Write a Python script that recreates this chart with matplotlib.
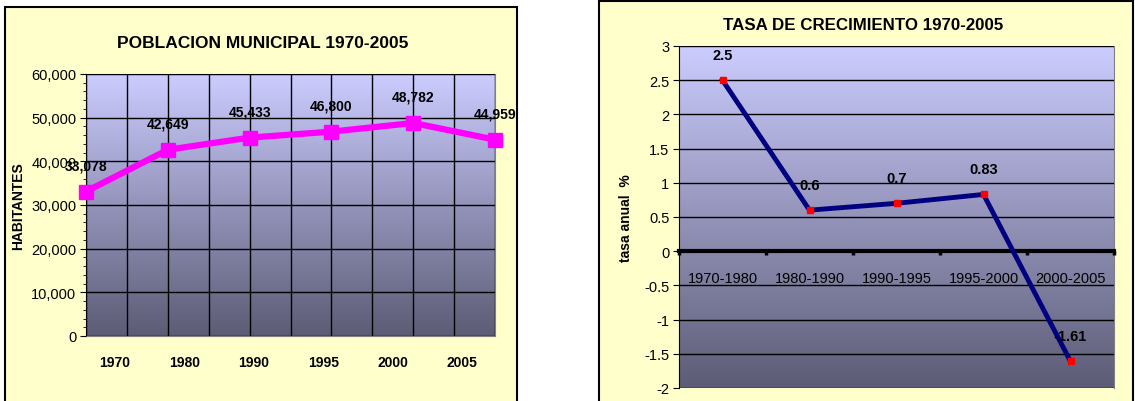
import numpy as np
import matplotlib
matplotlib.use('Agg')
import matplotlib.pyplot as plt
from matplotlib.patches import Rectangle
from matplotlib.ticker import MultipleLocator, FuncFormatter

plt.rcParams['font.family'] = ['Liberation Sans', 'DejaVu Sans']

# poblacion municipal
years = ['1970', '1980', '1990', '1995', '2000', '2005']
population = [33078, 42649, 45433, 46800, 48782, 44959]

# tasa de crecimiento
periods = ['1970-1980', '1980-1990', '1990-1995', '1995-2000', '2000-2005']
growth = [2.5, 0.6, 0.7, 0.83, -1.61]

W, H = 1135, 402
fig = plt.figure(figsize=(W / 100, H / 100), dpi=100)
fig.patch.set_facecolor('white')

# chart panels (pale yellow with black border)
for x0, y0, x1 in [(5, 8, 517), (599, 2, 1133)]:
    fig.add_artist(Rectangle((x0 / W, -0.02), (x1 - x0) / W, 1 - y0 / H + 0.02,
                             transform=fig.transFigure, facecolor='#FFFFCC',
                             edgecolor='black', lw=1.5, zorder=-10))


def gradient(ax):
    top = np.array([204, 204, 255]) / 255
    bot = np.array([92, 92, 118]) / 255
    t = np.linspace(0, 1, 256)[:, None]
    img = top * (1 - t) + bot * t
    ax.imshow(img[:, None, :], extent=[0, 1, 0, 1], transform=ax.transAxes,
              aspect='auto', zorder=0, interpolation='bilinear')


def axes_px(x0, y0, x1, y1):
    return fig.add_axes([x0 / W, 1 - y1 / H, (x1 - x0) / W, (y1 - y0) / H])


# ---- left chart ----
ax1 = axes_px(86, 75, 495, 337)
gradient(ax1)
xpos = np.arange(len(years)) * 2
ax1.plot(xpos, population, color='#FF00FF', lw=4.5, marker='s', ms=10.5,
         zorder=5, clip_on=False)
for x, v in zip(xpos, population):
    ax1.annotate(f'{v:,}', (x, v), xytext=(0, 19), textcoords='offset points',
                 ha='center', va='center', fontsize=10, fontweight='bold', zorder=6)
ax1.set_xlim(0, 10)
ax1.set_ylim(0, 60000)
ax1.yaxis.set_major_locator(MultipleLocator(10000))
ax1.yaxis.set_minor_locator(MultipleLocator(2000))
ax1.yaxis.set_major_formatter(FuncFormatter(lambda v, p: f'{int(v):,}'))
ax1.set_xticks(range(11), minor=True)
ax1.set_xticks(0.7 + 1.7 * np.arange(len(years)))
ax1.set_xticklabels(years, fontsize=10, fontweight='bold')
ax1.tick_params(axis='x', which='both', length=0, pad=14)
ax1.tick_params(axis='y', which='major', length=4, labelsize=10.5, pad=3)
ax1.tick_params(axis='y', which='minor', length=2.5)
ax1.grid(True, which='major', axis='y', color='black', lw=1)
ax1.grid(True, which='minor', axis='x', color='black', lw=1)
ax1.set_axisbelow(False)
for s in ['top', 'right', 'bottom']:
    ax1.spines[s].set_color('#808080')
ax1.spines['left'].set_color('black')
ax1.set_ylabel('HABITANTES', fontsize=10, fontweight='bold', labelpad=4)
fig.text(263 / W, 1 - 44 / H, 'POBLACION MUNICIPAL 1970-2005', ha='center',
         va='center', fontsize=12.5, fontweight='bold')

# ---- right chart ----
ax2 = axes_px(679, 47, 1114, 389)
gradient(ax2)
cx = np.arange(len(periods))
ax2.plot(cx, growth, color='#000080', lw=3.5, marker='s', ms=5,
         mfc='#FF0000', mec='#FF0000', zorder=5)
for x, v in zip(cx, growth):
    ax2.annotate(f'{v:g}', (x, v), xytext=(0, 18), textcoords='offset points',
                 ha='center', va='center', fontsize=10.5, fontweight='bold', zorder=6)
ax2.set_xlim(-0.5, len(periods) - 0.5)
ax2.set_ylim(-2, 3)
ax2.yaxis.set_major_locator(MultipleLocator(0.5))
ax2.yaxis.set_major_formatter(FuncFormatter(lambda v, p: f'{v:g}'))
ax2.grid(True, axis='y', color='black', lw=1)
ax2.set_axisbelow(False)
ax2.spines['bottom'].set_position(('data', 0))
ax2.spines['bottom'].set_linewidth(3)
ax2.spines['bottom'].set_zorder(4)
ax2.spines['top'].set_visible(False)
ax2.spines['right'].set_color('#808080')
ax2.set_xticks(np.arange(len(periods) + 1) - 0.5)
ax2.set_xticklabels([])
ax2.set_xticks(cx, minor=True)
ax2.set_xticklabels(periods, minor=True, fontsize=10.5)
ax2.tick_params(axis='x', which='major', length=3, width=2.5, direction='out')
ax2.tick_params(axis='x', which='minor', length=0, pad=14)
ax2.tick_params(axis='y', length=4, labelsize=10.5, pad=3)
ax2.set_ylabel('tasa anual  %', fontsize=10, fontweight='bold', labelpad=8)
fig.text(863 / W, 1 - 25 / H, 'TASA DE CRECIMIENTO 1970-2005', ha='center',
         va='center', fontsize=12.2, fontweight='bold')

fig.savefig('out.png', dpi=100)
